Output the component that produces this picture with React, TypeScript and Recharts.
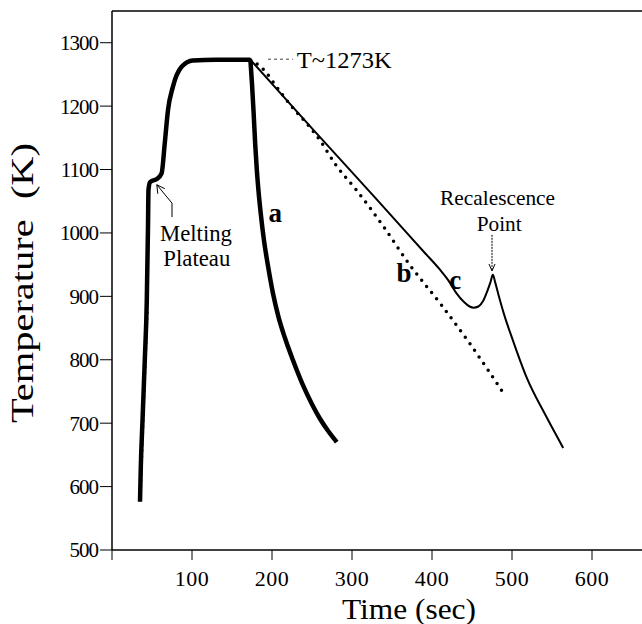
import {
  Label,
  Line,
  LineChart,
  ReferenceDot,
  ReferenceLine,
  XAxis,
  YAxis,
} from "recharts";

// heating up to the plateau (shared by all runs)
const heatTime = [35, 36, 38, 41, 43.5, 45, 45.6, 47.5, 52, 56, 62, 66, 70, 76, 87, 101, 130, 173];
const heatTemp = [576, 631, 700, 800, 894, 1010, 1068, 1080, 1083, 1085, 1094, 1142, 1194, 1230, 1262, 1272, 1273, 1273];

// dotted trace under the lower heating part
const heatDotTime = [35.6, 38.4, 41.4, 43.8];
const heatDotTemp = [600, 700, 800, 880];

// run a: fast quench
const aTime = [173, 175, 177, 179, 181, 183, 186, 190, 195, 201, 208, 216, 226, 238, 250, 260, 270, 281];
const aTemp = [1273, 1235, 1190, 1140, 1100, 1068, 1030, 988, 948, 906, 868, 835, 800, 762, 730, 707, 688, 670];

// run b: dotted
const bTime = [173, 190, 206, 216, 260, 281, 304, 340, 372, 412, 447, 489];
const bTemp = [1273, 1257, 1230, 1213, 1146, 1105, 1070, 1009, 950, 886, 826, 748];

// run c: slow cooling with recalescence
const cTime = [173, 250, 330, 390, 410, 420, 430, 440, 447, 452, 458, 464, 469, 473, 476, 479, 483, 490, 501, 518, 543, 564];
const cTemp = [1273, 1165, 1054, 970, 942, 926, 906, 891, 884, 882, 884, 893, 908, 922, 934, 922, 903, 872, 831, 773, 710, 661];

const xTicks = [0, 100, 200, 300, 400, 500, 600];
const yTicks = [500, 600, 700, 800, 900, 1000, 1100, 1200, 1300];

const zip = (xs: number[], ys: number[]) => xs.map((x, i) => ({ x, y: ys[i] }));

const heatData = zip(heatTime, heatTemp);
const heatDotData = zip(heatDotTime, heatDotTemp);
const aData = zip(aTime, aTemp);
const bData = zip(bTime, bTemp);
const cData = zip(cTime, cTemp);

const FONT = "'Liberation Serif', 'Times New Roman', serif";

function TextAt({
  text,
  size = 20,
  bold = false,
  anchor = "middle",
  length,
}: {
  text: string;
  size?: number;
  bold?: boolean;
  anchor?: "start" | "middle" | "end";
  length?: number;
}) {
  return (props: any) => (
    <text
      x={props.cx}
      y={props.cy}
      dy="0.35em"
      textAnchor={anchor}
      fontSize={size}
      fontWeight={bold ? "bold" : "normal"}
      fill="#000"
      textLength={length}
      lengthAdjust={length ? "spacingAndGlyphs" : undefined}
      style={{ fontFamily: FONT }}
    >
      {text}
    </text>
  );
}

export default function App() {
  return (
    <div style={{ position: "absolute", left: 0, top: 0, background: "#fff" }}>
      <LineChart
        width={642}
        height={624}
        margin={{ top: 11, right: 0, bottom: 0, left: 0 }}
      >
        <XAxis
          type="number"
          dataKey="x"
          domain={[0, 662.5]}
          ticks={xTicks}
          allowDataOverflow
          height={74}
          tickSize={10}
          tickMargin={10}
          stroke="#000"
          tickLine={{ stroke: "#000" }}
          axisLine={{ stroke: "#000", strokeWidth: 1.5 }}
          tickFormatter={(v: number) => (v === 0 ? "" : String(v))}
          tick={{ fontFamily: FONT, fontSize: 22, fill: "#000", letterSpacing: 0.5 }}
        >
          <Label
            content={(p: any) => (
              <text
                x={p.viewBox.x + 297}
                y={p.viewBox.y + 69}
                textAnchor="middle"
                fontSize={30}
                fill="#000"
                textLength={134}
                lengthAdjust="spacingAndGlyphs"
                style={{ fontFamily: FONT }}
              >
                Time (sec)
              </text>
            )}
          />
        </XAxis>
        <YAxis
          type="number"
          domain={[500, 1350]}
          ticks={yTicks}
          allowDataOverflow
          width={112}
          tickSize={12}
          tickMargin={2}
          stroke="#000"
          tickLine={{ stroke: "#000" }}
          axisLine={{ stroke: "#000", strokeWidth: 1.5 }}
          tick={{ fontFamily: FONT, fontSize: 21, fill: "#000", letterSpacing: -1 }}
        >
          <Label
            content={(p: any) => {
              const x = p.viewBox.x + 33;
              const y = p.viewBox.y + 272;
              return (
                <text
                  x={x}
                  y={y}
                  transform={`rotate(-90 ${x} ${y})`}
                  textAnchor="middle"
                  fontSize={31}
                  fill="#000"
                  textLength={280}
                  lengthAdjust="spacingAndGlyphs"
                  style={{ fontFamily: FONT, whiteSpace: "pre" }}
                >
                  {"Temperature  (K)"}
                </text>
              );
            }}
          />
        </YAxis>

        {/* frame top */}
        <ReferenceLine y={1350} stroke="#000" strokeWidth={1.5} />

        <Line
          data={heatDotData}
          dataKey="y"
          stroke="#000"
          strokeWidth={3.5}
          strokeDasharray="0 6"
          strokeLinecap="round"
          dot={false}
          isAnimationActive={false}
        />
        <Line
          data={heatData}
          dataKey="y"
          type="monotone"
          stroke="#000"
          strokeWidth={4.5}
          dot={false}
          isAnimationActive={false}
        />
        <Line
          data={aData}
          dataKey="y"
          type="monotone"
          stroke="#000"
          strokeWidth={4.5}
          dot={false}
          isAnimationActive={false}
        />
        <Line
          data={bData}
          dataKey="y"
          type="monotone"
          stroke="#000"
          strokeWidth={3.5}
          strokeDasharray="0 8"
          strokeLinecap="round"
          dot={false}
          isAnimationActive={false}
        />
        <Line
          data={cData}
          dataKey="y"
          type="monotone"
          stroke="#000"
          strokeWidth={2}
          dot={false}
          isAnimationActive={false}
        />

        {/* T~1273K leader */}
        <ReferenceLine
          segment={[
            { x: 195, y: 1274 },
            { x: 226, y: 1274 },
          ]}
          stroke="#444"
          strokeWidth={1}
          strokeDasharray="3 3"
        />
        <ReferenceDot x={231} y={1273} r={0} shape={TextAt({ text: "T~1273K", size: 23, anchor: "start", length: 95 })} />

        {/* melting plateau */}
        <ReferenceDot x={105} y={1000} r={0} shape={TextAt({ text: "Melting", size: 23, length: 72 })} />
        <ReferenceDot x={106} y={960} r={0} shape={TextAt({ text: "Plateau", size: 23, length: 67 })} />
        <ReferenceLine
          segment={[
            { x: 75, y: 1025 },
            { x: 75, y: 1047 },
          ]}
          stroke="#000"
          strokeWidth={1}
        />
        <ReferenceLine
          segment={[
            { x: 75, y: 1047 },
            { x: 56, y: 1076 },
          ]}
          stroke="#000"
          strokeWidth={1}
        />
        <ReferenceDot
          x={56}
          y={1076}
          r={0}
          shape={(p: any) => (
            <path
              d={`M${p.cx + 1} ${p.cy + 9} L${p.cx} ${p.cy} L${p.cx + 8} ${p.cy + 4}`}
              stroke="#000"
              strokeWidth={1}
              fill="none"
            />
          )}
        />

        {/* recalescence */}
        <ReferenceDot x={482} y={1055} r={0} shape={TextAt({ text: "Recalescence", size: 21, length: 115 })} />
        <ReferenceDot x={484} y={1014} r={0} shape={TextAt({ text: "Point", size: 21, length: 45 })} />
        <ReferenceLine
          segment={[
            { x: 475, y: 997 },
            { x: 475, y: 940 },
          ]}
          stroke="#000"
          strokeWidth={1}
          strokeDasharray="2 1"
        />
        <ReferenceDot
          x={475}
          y={940}
          r={0}
          shape={(p: any) => (
            <path
              d={`M${p.cx - 3} ${p.cy - 7} L${p.cx} ${p.cy} L${p.cx + 3} ${p.cy - 7}`}
              stroke="#000"
              strokeWidth={1}
              fill="none"
            />
          )}
        />

        {/* run labels */}
        <ReferenceDot x={204} y={1032} r={0} shape={TextAt({ text: "a", size: 27, bold: true })} />
        <ReferenceDot x={365} y={938} r={0} shape={TextAt({ text: "b", size: 27, bold: true })} />
        <ReferenceDot x={429} y={926} r={0} shape={TextAt({ text: "c", size: 27, bold: true })} />
      </LineChart>
    </div>
  );
}
